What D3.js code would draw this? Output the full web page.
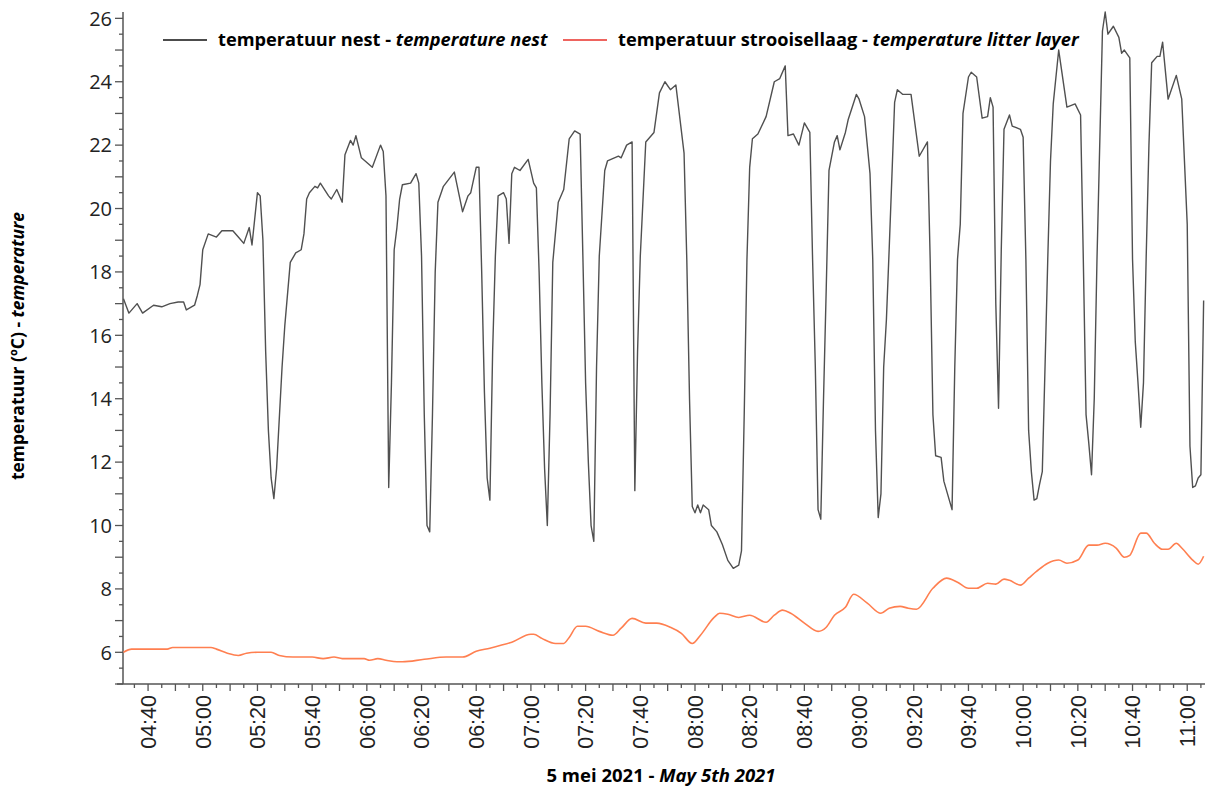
<!DOCTYPE html>
<html>
<head>
<meta charset="utf-8">
<script src="https://cdn.jsdelivr.net/npm/d3@7"></script>
<style>
  body { margin: 0; background: #fff; }
  svg { display: block; }
</style>
</head>
<body>
<svg id="chart" width="1210" height="789"></svg>
<script>
// temperatuur nest (black line)
const nestTime = ["04:31","04:33","04:36","04:38","04:42","04:45","04:48","04:51","04:53","04:54","04:57","04:58","04:59","05:00","05:02",
  "05:05","05:07","05:11","05:13","05:15","05:17","05:18","05:20","05:21","05:22","05:23","05:24","05:25","05:26","05:27","05:29","05:30",
  "05:32","05:34","05:36","05:37","05:38","05:39","05:41","05:42","05:43","05:46","05:47","05:49","05:51","05:52","05:54","05:55","05:56",
  "05:58","06:02","06:05","06:06","06:07","06:08","06:09","06:10","06:11","06:12","06:13","06:16","06:18","06:19","06:20","06:21","06:22",
  "06:23","06:24","06:25","06:26","06:28","06:32","06:35","06:37","06:38","06:40","06:41","06:42","06:43","06:44","06:45","06:46","06:47",
  "06:48","06:50","06:51","06:52","06:53","06:54","06:56","06:59","07:01","07:02","07:03","07:04","07:05","07:06","07:07","07:08","07:10",
  "07:12","07:14","07:16","07:18","07:19","07:20","07:21","07:22","07:23","07:24","07:25","07:27","07:28","07:32","07:33","07:35","07:37",
  "07:38","07:39","07:40","07:42","07:45","07:47","07:49","07:51","07:53","07:56","07:57","07:58","07:59","08:00","08:01","08:02","08:03",
  "08:05","08:06","08:08","08:10","08:12","08:14","08:16","08:17","08:18","08:19","08:20","08:21","08:23","08:26","08:29","08:31","08:33",
  "08:34","08:36","08:38","08:40","08:42","08:43","08:44","08:45","08:46","08:47","08:48","08:49","08:51","08:52","08:53","08:55","08:56",
  "08:59","09:00","09:02","09:04","09:05","09:06","09:07","09:08","09:09","09:10","09:11","09:12","09:13","09:14","09:16","09:19","09:21",
  "09:22","09:25","09:26","09:27","09:28","09:30","09:31","09:34","09:35","09:36","09:37","09:38","09:40","09:41","09:43","09:45","09:47",
  "09:48","09:49","09:50","09:51","09:52","09:53","09:55","09:56","09:59","10:00","10:01","10:02","10:03","10:04","10:05","10:06","10:07",
  "10:08","10:09","10:10","10:11","10:13","10:16","10:19","10:21","10:22","10:23","10:24","10:25","10:26","10:27","10:28","10:29","10:30",
  "10:31","10:33","10:35","10:36","10:37","10:39","10:40","10:41","10:42","10:43","10:44","10:45","10:46","10:47","10:49","10:50","10:51",
  "10:53","10:56","10:58","11:00","11:01","11:02","11:03","11:04","11:05","11:06"];
const nestTemp = [17.15,16.7,17.0,16.7,16.95,16.9,17.0,17.05,17.05,16.8,16.95,17.25,17.6,18.7,19.2,
  19.1,19.3,19.3,19.1,18.9,19.4,18.85,20.5,20.4,19.0,15.5,13.0,11.5,10.85,11.8,15.0,16.3,
  18.3,18.6,18.7,19.2,20.3,20.5,20.7,20.65,20.8,20.4,20.3,20.6,20.2,21.7,22.15,22.0,22.3,
  21.6,21.3,22.0,21.8,20.4,11.2,14.5,18.7,19.4,20.3,20.75,20.8,21.1,20.8,18.5,13.5,10.0,
  9.8,13.5,18.0,20.2,20.7,21.15,19.9,20.4,20.5,21.3,21.3,18.0,14.2,11.5,10.8,15.5,18.5,
  20.4,20.5,20.3,18.9,21.1,21.3,21.2,21.55,20.8,20.65,18.0,14.5,11.8,10.0,13.5,18.3,20.2,
  20.6,22.2,22.45,22.35,18.5,14.5,12.0,10.0,9.5,15.0,18.5,21.2,21.5,21.65,21.6,22.0,22.1,
  11.1,15.5,18.5,22.1,22.4,23.65,24.0,23.75,23.9,21.75,18.4,14.0,10.6,10.4,10.65,10.4,10.65,
  10.5,10.0,9.8,9.4,8.9,8.65,8.75,9.2,13.5,18.4,21.3,22.2,22.35,22.9,24.0,24.1,24.5,
  22.3,22.35,22.0,22.7,22.4,18.4,15.0,10.5,10.2,14.0,17.5,21.2,22.1,22.3,21.85,22.4,22.8,
  23.6,23.45,22.9,21.1,18.4,13.0,10.25,11.0,15.0,16.5,18.7,21.0,23.35,23.75,23.6,23.6,22.3,
  21.65,22.1,18.4,13.5,12.2,12.15,11.4,10.5,15.0,18.4,19.5,23.0,24.15,24.3,24.15,22.85,22.9,
  23.5,23.2,17.0,13.7,18.7,22.5,22.95,22.6,22.5,22.25,18.4,13.0,11.7,10.8,10.85,11.3,11.7,
  15.0,18.4,21.5,23.3,25.0,23.2,23.3,22.95,18.4,13.5,12.6,11.6,14.0,18.4,22.0,25.6,26.2,
  25.5,25.75,25.4,24.9,25.0,24.75,18.4,15.8,14.5,13.1,14.5,18.5,22.0,24.6,24.8,24.8,25.25,
  23.45,24.2,23.45,19.5,12.5,11.2,11.25,11.5,11.6,17.1];

// temperatuur strooisellaag (orange line)
const litterTime = ["04:31","04:34","04:47","04:49","05:03","05:05","05:09","05:13","05:16","05:20","05:25","05:28","05:33","05:40",
  "05:44","05:48","05:51","05:59","06:01","06:04","06:07","06:11","06:13","06:21","06:29","06:35","06:40","06:45","06:49","06:53",
  "07:00","07:01","07:04","07:09","07:12","07:14","07:17","07:20","07:25","07:30","07:33","07:37","07:42","07:46","07:51","07:55",
  "07:59","08:02","08:07","08:09","08:12","08:16","08:20","08:26","08:29","08:32","08:35","08:40","08:45","08:48","08:51","08:55",
  "08:58","09:03","09:08","09:11","09:15","09:18","09:21","09:27","09:32","09:36","09:40","09:43","09:47","09:50","09:53","09:55",
  "09:59","10:02","10:05","10:09","10:13","10:16","10:20","10:24","10:27","10:30","10:34","10:37","10:39","10:43","10:45","10:48",
  "10:51","10:53","10:56","10:58","11:02","11:04","11:06"];
const litterTemp = [6.0,6.1,6.1,6.15,6.15,6.1,5.97,5.9,5.97,6.0,6.0,5.9,5.85,5.85,
  5.8,5.85,5.8,5.8,5.75,5.8,5.75,5.7,5.7,5.78,5.85,5.85,6.03,6.13,6.22,6.32,
  6.57,6.57,6.44,6.28,6.28,6.47,6.82,6.82,6.66,6.54,6.76,7.07,6.92,6.92,6.79,6.6,
  6.28,6.54,7.1,7.23,7.2,7.1,7.17,6.95,7.17,7.33,7.23,6.92,6.66,6.79,7.17,7.42,
  7.83,7.55,7.23,7.39,7.45,7.39,7.36,8.02,8.34,8.21,8.02,8.02,8.18,8.15,8.31,8.27,
  8.12,8.34,8.56,8.81,8.91,8.81,8.91,9.38,9.38,9.44,9.29,9.0,9.06,9.76,9.76,9.44,
  9.25,9.25,9.44,9.29,8.91,8.78,9.03];

const yTicks = [6, 8, 10, 12, 14, 16, 18, 20, 22, 24, 26];
const xTickLabels = ["04:40","05:00","05:20","05:40","06:00","06:20","06:40","07:00","07:20","07:40","08:00",
  "08:20","08:40","09:00","09:20","09:40","10:00","10:20","10:40","11:00"];
const xDomain = ["04:30:50", "11:06:30"];
const yDomain = [5, 26.2];

const parseHM = d3.timeParse("%H:%M");
const parseHMS = d3.timeParse("%H:%M:%S");

const svg = d3.select("#chart");
const plotLeft = 123, plotRight = 1205, plotTop = 12, plotBottom = 684;

const x = d3.scaleTime()
  .domain(xDomain.map(parseHMS))
  .range([plotLeft, plotRight]);
const y = d3.scaleLinear()
  .domain(yDomain)
  .range([plotBottom, plotTop]);

const axisColor = "#555";

// y axis: minor every 0.5, longer on integers
const yMinor = d3.range(5, 26.01, 0.5);
const yAxis = svg.append("g");
yAxis.append("line")
  .attr("x1", plotLeft).attr("x2", plotLeft)
  .attr("y1", plotTop).attr("y2", plotBottom)
  .attr("stroke", axisColor).attr("stroke-width", 1.5);
yAxis.selectAll("line.tick").data(yMinor).join("line")
  .attr("class", "tick")
  .attr("x1", d => Number.isInteger(d) ? plotLeft - 8 : plotLeft - 4)
  .attr("x2", plotLeft)
  .attr("y1", d => y(d)).attr("y2", d => y(d))
  .attr("stroke", axisColor).attr("stroke-width", 1.3);
yAxis.selectAll("text").data(yTicks).join("text")
  .attr("x", 112)
  .attr("y", d => y(d))
  .attr("dy", "0.36em")
  .attr("text-anchor", "end")
  .attr("font-family", "Open Sans, sans-serif")
  .attr("font-size", 20)
  .attr("fill", "#222")
  .text(d => d);

// x axis: ticks every 5 minutes, longer every 10
const xMinor = d3.timeMinute.every(5).range(x.domain()[0], x.domain()[1]);
const xAxis = svg.append("g");
xAxis.append("line")
  .attr("x1", 117).attr("x2", plotRight)
  .attr("y1", plotBottom).attr("y2", plotBottom)
  .attr("stroke", axisColor).attr("stroke-width", 1.5);
xAxis.selectAll("line.tick").data(xMinor).join("line")
  .attr("class", "tick")
  .attr("x1", d => x(d)).attr("x2", d => x(d))
  .attr("y1", plotBottom)
  .attr("y2", d => d.getMinutes() % 10 === 0 ? plotBottom + 7 : plotBottom + 4)
  .attr("stroke", axisColor).attr("stroke-width", 1.3);
xAxis.selectAll("text").data(xTickLabels).join("text")
  .attr("transform", d => `translate(${x(parseHM(d))},695) rotate(-90)`)
  .attr("dy", "0.36em")
  .attr("text-anchor", "end")
  .attr("font-family", "Liberation Sans, Arial, sans-serif")
  .attr("font-size", 21.5)
  .attr("fill", "#222")
  .text(d => d);

// lines
const nestLine = d3.line()
  .x((d, i) => x(parseHM(nestTime[i])))
  .y(d => y(d));
svg.append("path")
  .datum(nestTemp)
  .attr("d", nestLine)
  .attr("fill", "none")
  .attr("stroke", "#505050")
  .attr("stroke-width", 1.4)
  .attr("stroke-linejoin", "round");

const litterLine = d3.line()
  .curve(d3.curveMonotoneX)
  .x((d, i) => x(parseHM(litterTime[i])))
  .y(d => y(d));
svg.append("path")
  .datum(litterTemp)
  .attr("d", litterLine)
  .attr("fill", "none")
  .attr("stroke", "#ff7f50")
  .attr("stroke-width", 1.6);

// legend
const legend = [
  { color: "#111", x: 163, plain: "temperatuur nest - ", italic: "temperature nest" },
  { color: "#e8302a", x: 563, plain: "temperatuur strooisellaag - ", italic: "temperature litter layer" }
];
const lg = svg.append("g");
legend.forEach(l => {
  lg.append("line")
    .attr("x1", l.x).attr("x2", l.x + 44)
    .attr("y1", 40).attr("y2", 40)
    .attr("stroke", l.color).attr("stroke-width", 1.3);
  const t = lg.append("text")
    .attr("x", l.x + 55).attr("y", 46)
    .attr("font-family", "Open Sans, sans-serif")
    .attr("font-weight", 700)
    .attr("font-size", 18.2)
    .attr("fill", "#000");
  t.append("tspan").text(l.plain);
  t.append("tspan").attr("font-style", "italic").text(l.italic);
});

// axis titles
const yt = svg.append("text")
  .attr("transform", "translate(24,346) rotate(-90)")
  .attr("text-anchor", "middle")
  .attr("font-family", "Open Sans, sans-serif")
  .attr("font-weight", 700)
  .attr("font-size", 17.5)
  .attr("fill", "#000");
yt.append("tspan").text("temperatuur (ºC) - ");
yt.append("tspan").attr("font-style", "italic").text("temperature");

const xt = svg.append("text")
  .attr("x", 661).attr("y", 782)
  .attr("text-anchor", "middle")
  .attr("font-family", "Open Sans, sans-serif")
  .attr("font-weight", 700)
  .attr("font-size", 18.5)
  .attr("fill", "#000");
xt.append("tspan").text("5 mei 2021 - ");
xt.append("tspan").attr("font-style", "italic").text("May 5th 2021");
</script>
</body>
</html>
